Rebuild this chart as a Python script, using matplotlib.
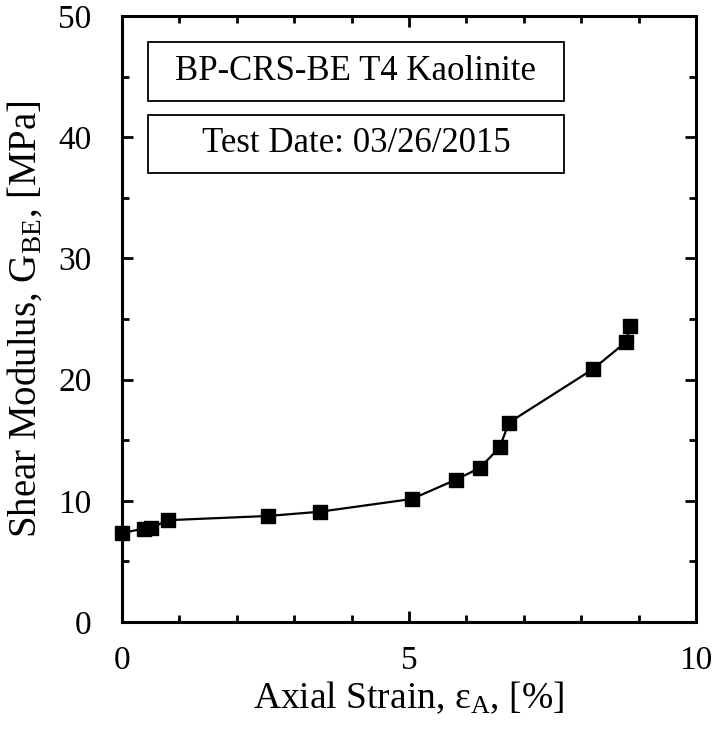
import matplotlib
matplotlib.use("Agg")
import matplotlib.pyplot as plt
from matplotlib.patches import Rectangle

plt.rcParams['font.family'] = ['Liberation Serif', 'DejaVu Serif']
plt.rcParams['mathtext.fontset'] = 'custom'
plt.rcParams['mathtext.rm'] = 'Liberation Serif'
plt.rcParams['mathtext.it'] = 'Liberation Serif:italic'

strain = [0.0, 0.38, 0.50, 0.80, 2.55, 3.45, 5.05, 5.82, 6.23, 6.58, 6.74, 8.20, 8.78, 8.85]
gbe = [7.35, 7.70, 7.75, 8.40, 8.75, 9.10, 10.15, 11.75, 12.70, 14.40, 16.45, 20.85, 23.10, 24.45]
x_ticks = [0, 5, 10]
y_ticks = [0, 10, 20, 30, 40, 50]
title_text = "BP-CRS-BE T4 Kaolinite"
date_text = "Test Date: 03/26/2015"

fig = plt.figure(figsize=(7.17, 7.29), dpi=100)
ax = fig.add_axes([122/717, 1-622/729, (696-122)/717, (622-16)/729])

ax.plot(strain, gbe, color='black', lw=1.6, marker='s', markersize=10.5,
        markerfacecolor='black', markeredgecolor='black', clip_on=False, zorder=3)

ax.set_xlim(0, 10)
ax.set_ylim(0, 50)
ax.set_xticks(x_ticks)
ax.set_yticks(y_ticks)
ax.set_xticks(range(0, 11), minor=True)
ax.set_yticks(range(0, 51, 5), minor=True)
ax.tick_params(which='both', direction='in', top=True, right=True, width=2, labelsize=24)
ax.tick_params(which='major', length=8)
ax.tick_params(which='minor', length=5)
ax.tick_params(axis='y', which='major', pad=22)
ax.tick_params(axis='x', which='major', pad=17)
for s in ax.spines.values():
    s.set_linewidth(2.2)

ax.set_xlabel(r"Axial Strain, ε$_\mathregular{A}$, [%]", fontsize=27)
ax.set_ylabel(r"Shear Modulus, G$_\mathregular{BE}$, [MPa]", fontsize=28)
ax.xaxis.set_label_coords(0.5, -0.095)
ax.yaxis.set_label_coords(-0.135, 0.5)

boxes = [(title_text, 0.957, 0.860), (date_text, 0.837, 0.741)]
bx0, bx1 = 0.045, 0.77
for txt, top, bot in boxes:
    r = Rectangle((bx0, bot), bx1 - bx0, top - bot, transform=ax.transAxes,
                  fill=False, edgecolor='black', lw=1.3, zorder=4)
    ax.add_patch(r)
    ax.text((bx0 + bx1) / 2, (top + bot) / 2, txt, transform=ax.transAxes,
            ha='center', va='center', fontsize=25, zorder=5)

fig.savefig("out.png", dpi=100)
